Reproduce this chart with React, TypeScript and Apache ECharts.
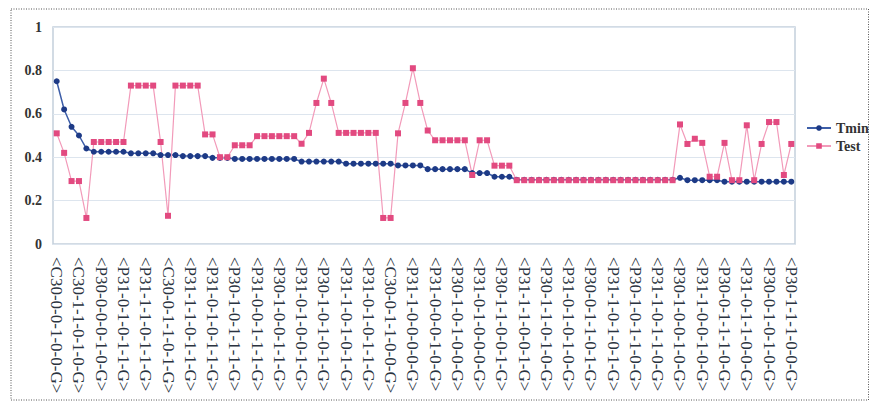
import React, { useEffect, useRef } from "react";
import * as echarts from "echarts";

const tickLabels: string[] = [
  "<C30-0-0-1-0-0-G>", "<C30-1-1-0-1-0-G>", "<P30-0-0-0-1-0-G>", "<P31-0-1-0-1-1-G>",
  "<P31-1-1-0-1-1-G>", "<C30-0-1-1-0-1-G>", "<P31-1-1-0-1-1-G>", "<P31-0-1-0-1-1-G>",
  "<P30-1-0-1-1-1-G>", "<P31-0-0-1-1-1-G>", "<P30-1-0-0-1-1-G>", "<P31-0-1-0-0-1-G>",
  "<P30-1-0-1-0-1-G>", "<P31-1-0-1-0-1-G>", "<P31-0-1-0-1-1-G>", "<C30-0-1-1-0-0-G>",
  "<P31-1-0-0-0-0-G>", "<P31-0-0-0-1-0-G>", "<P30-1-0-1-0-0-G>", "<P31-0-1-0-0-0-G>",
  "<P30-1-1-0-0-1-G>", "<P31-1-1-0-0-1-G>", "<P30-1-1-0-1-0-G>", "<P31-0-1-0-1-0-G>",
  "<P30-0-1-1-0-1-G>", "<P31-1-0-1-0-1-G>", "<P30-1-0-1-1-0-G>", "<P31-1-0-1-1-0-G>",
  "<P30-1-0-0-1-0-G>", "<P31-1-0-0-1-0-G>", "<P30-0-1-1-1-0-G>", "<P31-0-1-1-0-0-G>",
  "<P30-0-1-0-1-0-G>", "<P30-1-1-1-0-0-G>",
];

const tminValues: number[] = [
  0.75, 0.62, 0.54, 0.5, 0.44,
  0.425, 0.425, 0.425, 0.425, 0.425,
  0.418, 0.418, 0.418, 0.418,
  0.41, 0.41, 0.41,
  0.405, 0.405, 0.405, 0.405,
  0.397, 0.397, 0.397,
  0.392, 0.392, 0.392, 0.392, 0.392, 0.392, 0.392, 0.392, 0.392,
  0.38, 0.38, 0.38, 0.38, 0.38, 0.38,
  0.37, 0.37, 0.37, 0.37, 0.37, 0.37, 0.37,
  0.362, 0.362, 0.362, 0.362,
  0.345, 0.345, 0.345, 0.345, 0.345, 0.345,
  0.327, 0.327, 0.327,
  0.31, 0.31, 0.31,
  0.296, 0.296, 0.296, 0.296, 0.296, 0.296, 0.296, 0.296, 0.296, 0.296, 0.296,
  0.296, 0.296, 0.296, 0.296, 0.296, 0.296, 0.296, 0.296, 0.296, 0.296, 0.296,
  0.305,
  0.294, 0.294, 0.294, 0.294, 0.294,
  0.287, 0.287, 0.287, 0.287, 0.287, 0.287, 0.287, 0.287, 0.287, 0.287,
];

const testValues: number[] = [
  0.51, 0.42, 0.29, 0.29, 0.12,
  0.47, 0.47, 0.47, 0.47, 0.47,
  0.73, 0.73, 0.73, 0.73,
  0.47, 0.13,
  0.73, 0.73, 0.73, 0.73,
  0.505, 0.505,
  0.4, 0.4,
  0.455, 0.455, 0.455,
  0.497, 0.497, 0.497, 0.497, 0.497, 0.497,
  0.462, 0.512, 0.65, 0.762, 0.65,
  0.512, 0.512, 0.512, 0.512, 0.512, 0.512,
  0.12, 0.12,
  0.51, 0.65, 0.81, 0.65, 0.523,
  0.478, 0.478, 0.478, 0.478, 0.478,
  0.318,
  0.478, 0.478,
  0.361, 0.361, 0.361,
  0.294, 0.294, 0.294, 0.294, 0.294, 0.294, 0.294, 0.294, 0.294, 0.294, 0.294,
  0.294, 0.294, 0.294, 0.294, 0.294, 0.294, 0.294, 0.294, 0.294, 0.294, 0.294,
  0.551, 0.461, 0.485, 0.466, 0.31, 0.31, 0.466, 0.294, 0.294, 0.547,
  0.294, 0.461, 0.562, 0.562, 0.318, 0.461,
];

const seriesNames: string[] = ["Tmin", "Test"];

const categories: string[] = tminValues.map((_, i) =>
  i % 3 === 0 ? tickLabels[i / 3] : ""
);

const SERIF = "'Liberation Serif', 'DejaVu Serif', serif";

export default function App() {
  const ref = useRef<HTMLDivElement>(null);
  useEffect(() => {
    if (!ref.current) return;
    const chart = echarts.init(ref.current, undefined, { renderer: "svg" });
    chart.setOption({
      animation: false,
      backgroundColor: "#ffffff",
      graphic: [
        {
          type: "rect",
          shape: { x: 11, y: 9, width: 857.5, height: 391 },
          style: { fill: "none", stroke: "#555", lineWidth: 1, lineDash: [1, 1.5] },
          silent: true,
        },
      ],
      grid: {
        left: 53,
        right: 75,
        top: 27,
        bottom: 159,
        show: true,
        borderColor: "#c3d0dc",
        borderWidth: 1.5,
      },
      legend: {
        orient: "vertical",
        left: 801,
        top: 116,
        itemWidth: 24,
        itemHeight: 7,
        itemGap: 4,
        data: seriesNames,
        textStyle: { fontFamily: SERIF, fontSize: 14, fontWeight: "bold", color: "#333" },
      },
      xAxis: {
        type: "category",
        data: categories,
        boundaryGap: true,
        axisLine: { show: false },
        axisTick: { show: false },
        axisLabel: {
          interval: 2,
          rotate: -90,
          margin: 13,
          fontFamily: SERIF,
          fontSize: 17,
          color: "#2a3340",
        },
      },
      yAxis: {
        type: "value",
        min: 0,
        max: 1,
        interval: 0.2,
        axisLine: { show: false },
        axisTick: { show: false },
        splitLine: { lineStyle: { color: "#dde5ee", width: 1 } },
        axisLabel: {
          margin: 11,
          fontFamily: SERIF,
          fontSize: 14,
          fontWeight: "bold",
          color: "#333",
          formatter: (v: number) => (v === 0 || v === 1 ? String(v) : v.toFixed(1)),
        },
      },
      series: [
        {
          name: seriesNames[0],
          type: "line",
          data: tminValues,
          symbol: "circle",
          symbolSize: 6,
          showAllSymbol: true,
          lineStyle: { color: "#3d5ea8", width: 1.5 },
          itemStyle: { color: "#1d3a86" },
        },
        {
          name: seriesNames[1],
          type: "line",
          data: testValues,
          symbol: "rect",
          symbolSize: 6,
          showAllSymbol: true,
          lineStyle: { color: "#f29ab9", width: 1.2 },
          itemStyle: { color: "#e24a80" },
        },
      ],
    });
    return () => chart.dispose();
  }, []);
  return (
    <div
      ref={ref}
      style={{ position: "fixed", left: 0, top: 0, width: 870, height: 403 }}
    />
  );
}
